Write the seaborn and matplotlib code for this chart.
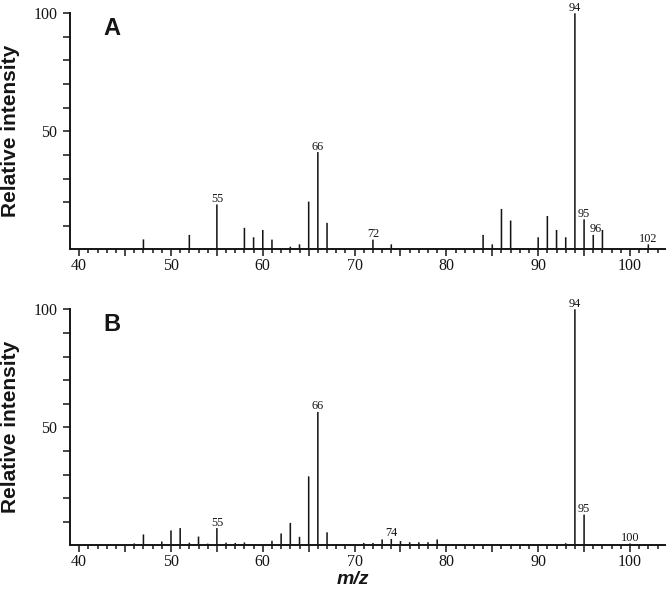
import matplotlib
matplotlib.use("Agg")
import matplotlib.pyplot as plt
import seaborn as sns
import pandas as pd
from matplotlib.ticker import FixedLocator, FuncFormatter

# ---- data ----
A_mz = [47, 52, 55, 58, 59, 60, 61, 63, 64, 65, 66, 67, 72, 74, 84, 85, 86, 87,
        90, 91, 92, 93, 94, 95, 96, 97, 102]
A_int = [4.2, 6.1, 19.0, 9.1, 5.1, 8.2, 4.1, 1.1, 2.1, 20.2, 41.2, 11.2, 4.1, 2.1,
         6.1, 2.1, 17.1, 12.2, 5.1, 14.1, 8.2, 5.1, 100, 12.7, 6.1, 8.2, 2.1]
A_labels = [55, 66, 72, 94, 95, 96, 102]

B_mz = [46, 47, 49, 50, 51, 52, 53, 54, 55, 56, 57, 58, 59, 61, 62, 63, 64, 65,
        66, 67, 68, 69, 71, 72, 73, 74, 75, 76, 77, 78, 79, 93, 94, 95, 100]
B_int = [0.8, 4.6, 1.6, 6.3, 7.3, 1.1, 3.7, 0.7, 7.3, 1.1, 1.0, 1.2, 0.5, 1.9,
         5.0, 9.5, 3.6, 29.2, 56.5, 5.5, 0.5, 0.4, 1.0, 1.0, 2.5, 2.7, 1.8, 1.3,
         1.3, 1.3, 2.5, 0.9, 100, 13.0, 0.8]
B_labels = [55, 66, 74, 94, 95, 100]

panels = ["A", "B"]
x_major = list(range(40, 101, 5))
x_labelled = list(range(40, 101, 10))
x_minor = [v for v in range(40, 104) if v % 5 != 0]
y_ticks = list(range(10, 101, 10))
y_labelled = [50, 100]

sns.set_style("ticks")
plt.rcParams["font.family"] = ["Liberation Serif", "DejaVu Serif"]

W, H = 666, 594
fig = plt.figure(figsize=(W / 100, H / 100), dpi=100)

def px_axes(left, top, right, bottom):
    return fig.add_axes([left / W, 1 - bottom / H, (right - left) / W, (bottom - top) / H])

axA = px_axes(70, 13.3, 666.7, 249.3)
axB = px_axes(70, 309.3, 666.7, 545.3)

sans = ["Liberation Sans", "DejaVu Sans"]
label_dx = {96: 2.0}
ink = "#151515"

for ax, name, mz, inten, labs in [(axA, "A", A_mz, A_int, A_labels),
                                  (axB, "B", B_mz, B_int, B_labels)]:
    df = pd.DataFrame({"mz": mz, "intensity": inten})
    sns.barplot(data=df, x="mz", y="intensity", native_scale=True, width=0.17,
                color=ink, saturation=1, errorbar=None, linewidth=0, ax=ax)
    for p in ax.patches:
        p.set_snap(False)
    ax.set_xlim(39, 104)
    ax.set_ylim(0, 100)
    for s in ["top", "right"]:
        ax.spines[s].set_visible(False)
    for s in ["left", "bottom"]:
        ax.spines[s].set_linewidth(1.4)
        ax.spines[s].set_color(ink)

    ax.xaxis.set_major_locator(FixedLocator(x_major))
    ax.xaxis.set_minor_locator(FixedLocator(x_minor))
    ax.xaxis.set_major_formatter(FuncFormatter(
        lambda v, p: f"{int(round(v))}" if int(round(v)) in x_labelled else ""))
    ax.yaxis.set_major_locator(FixedLocator(y_ticks))
    ax.yaxis.set_major_formatter(FuncFormatter(
        lambda v, p: f"{int(round(v))}" if int(round(v)) in y_labelled else ""))
    ax.tick_params(axis="x", which="major", length=5, width=1.1, pad=1.3,
                   labelsize=11.5, direction="out", colors=ink)
    ax.tick_params(axis="x", which="minor", length=3, width=1.1, direction="out",
                   colors=ink)
    ax.tick_params(axis="y", which="major", length=5, width=1.1, pad=4,
                   labelsize=11.5, direction="out", colors=ink)

    ax.set_xlabel("")
    ax.set_ylabel("Relative intensity", fontsize=15, fontweight="bold",
                  family=sans, color=ink)
    ax.yaxis.set_label_coords(-0.0846, 0.5)

    for m in labs:
        v = inten[mz.index(m)]
        ax.annotate(f"{m}", xy=(m, v), xytext=(label_dx.get(m, 0) * 0.72, 1.8),
                    textcoords="offset points", ha="center", va="baseline",
                    fontsize=8.8, color=ink, annotation_clip=False)

    ax.text(0.0558, 0.908, name, transform=ax.transAxes, fontsize=17,
            fontweight="bold", family=sans, ha="left", va="baseline",
            color=ink)

axB.set_xlabel("m/z", fontsize=14, fontweight="bold", style="italic",
               family=sans, color=ink)
axB.xaxis.label.set_va("baseline")
axB.xaxis.set_label_coords(0.474, -0.166)

fig.savefig("out.png", dpi=100)
